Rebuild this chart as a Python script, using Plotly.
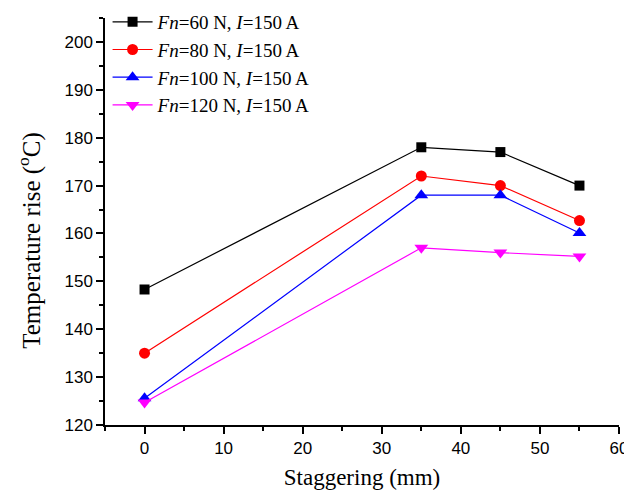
import plotly.graph_objects as go

x = [0, 35, 45, 55]
names = ["<i>Fn</i>=60 N, <i>I</i>=150 A", "<i>Fn</i>=80 N, <i>I</i>=150 A",
         "<i>Fn</i>=100 N, <i>I</i>=150 A", "<i>Fn</i>=120 N, <i>I</i>=150 A"]
fn60 = [148.3, 178.0, 177.0, 170.0]
fn80 = [135.0, 172.0, 170.0, 162.7]
fn100 = [125.6, 168.0, 168.0, 160.1]
fn120 = [124.7, 157.0, 156.0, 155.2]
y_title = "Temperature rise (<sup>o</sup>C)"
x_title = "Staggering (mm)"

series = [fn60, fn80, fn100, fn120]
colors = ["#000000", "#ff0000", "#0000ff", "#ff00ff"]
symbols = ["square", "circle", "triangle-up", "triangle-down"]
sizes = [10, 11, 12, 12]

fig = go.Figure()
for n, s, c, m, sz in zip(names, series, colors, symbols, sizes):
    fig.add_trace(go.Scatter(x=x, y=s, name=n, mode="lines+markers",
                             line=dict(color=c, width=1.2),
                             marker=dict(symbol=m, size=sz, color=c)))

axis_common = dict(showline=True, linecolor="black", linewidth=1.5, ticks="outside",
                   ticklen=7, tickwidth=1.5, tickcolor="black", showgrid=False, zeroline=False,
                   tickfont=dict(family="Liberation Sans, Arial", size=17, color="black"),
                   mirror=False, automargin=False)

fig.update_xaxes(range=[-5, 60], dtick=10, tick0=0,
                 minor=dict(ticks="outside", dtick=5, tick0=0, ticklen=4, tickwidth=1.5, tickcolor="black"),
                 title=dict(text=x_title, font=dict(family="Liberation Serif, Times New Roman", size=23, color="black"), standoff=12),
                 **axis_common)
fig.update_yaxes(range=[120, 205], dtick=10, tick0=120,
                 minor=dict(ticks="outside", dtick=5, tick0=120, ticklen=4, tickwidth=1.5, tickcolor="black"),
                 **axis_common)

fig.add_annotation(text=y_title, xref="paper", yref="paper", x=-0.146, y=0.455,
                   xanchor="center", yanchor="middle", textangle=-90, showarrow=False,
                   font=dict(family="Liberation Serif, Times New Roman", size=25, color="black"))

fig.update_layout(width=632, height=497, plot_bgcolor="white", paper_bgcolor="white",
                  margin=dict(l=97, r=21, t=10, b=80, autoexpand=False),
                  legend=dict(x=0.005, y=1.037, xanchor="left", yanchor="top",
                              bgcolor="rgba(0,0,0,0)", font=dict(family="Liberation Serif, Times New Roman", size=19, color="black"),
                              itemwidth=40, tracegroupgap=0))

fig.write_html("out.html")
